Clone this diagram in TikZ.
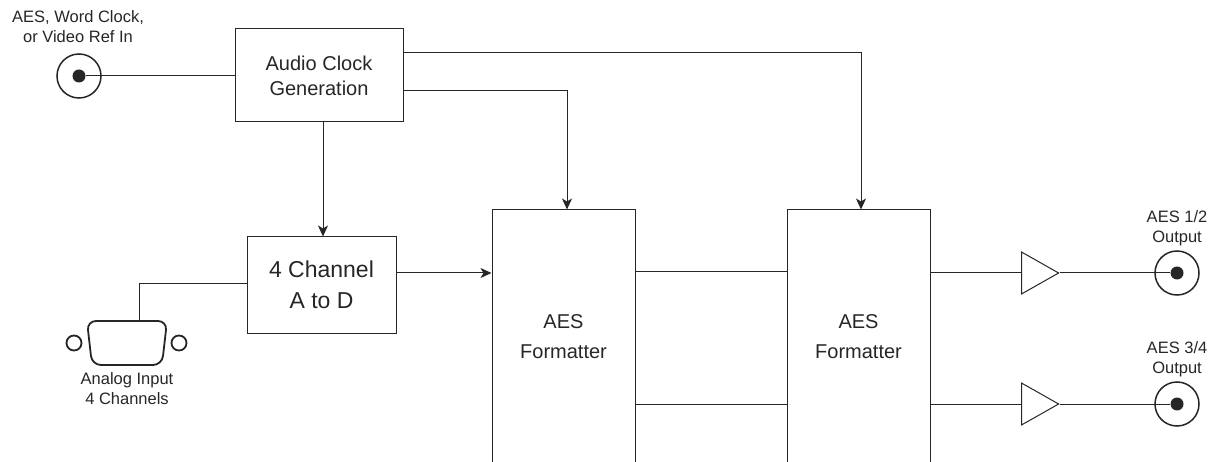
\documentclass[tikz,border=0pt]{standalone}
\usepackage{fontspec}
\setmainfont{Liberation Sans}
\usetikzlibrary{positioning,arrows.meta,shapes.geometric}

\begin{document}
\begin{tikzpicture}[x=1pt,y=-1pt,line width=1pt,color=black!85,
box/.style={draw,inner sep=0pt,align=center,font=\fontsize{20}{25}\selectfont},
note/.style={inner sep=0pt,align=center,font=\fontsize{16.5}{20}\selectfont},
coax/.style={draw,circle,minimum size=44pt,inner sep=0pt,line width=1.5pt},
pin/.style={circle,fill,minimum size=13pt,inner sep=0pt},
hole/.style={draw,circle,minimum size=15pt,inner sep=0pt,line width=1.8pt},
amp/.style={draw,isosceles triangle,isosceles triangle apex angle=59,minimum width=42pt,inner sep=0pt,anchor=lower side},
arrow/.style={-{Stealth[length=11pt,width=10pt,inset=3pt]}}]
\useasboundingbox (0,0) rectangle (1212,462);
% inputs
\node[coax] (refin) at (79,76) {};
\node[pin] (refpin) at (79,76) {};
\node[note] (reflabel) at (78,27) {AES, Word Clock,\\or Video Ref In};
\node[draw,trapezium,trapezium left angle=83.5,trapezium right angle=83.5,shape border rotate=180,inner sep=0pt,rounded corners=9pt,line width=1.8pt] (dsub) at (127,343) {\phantom{\rule{70pt}{44pt}}};
\node[hole] (holea) at (74,343) {};
\node[hole] (holeb) at (179,343) {};
\node[note] (dsublabel) at (127,389) {Analog Input\\4 Channels};
% blocks
\node[box,minimum width=168pt,minimum height=93pt] (clock) at (319,75.5) {Audio Clock\\Generation};
\node[box,minimum width=149pt,minimum height=96pt,font=\fontsize{23}{31}\selectfont] (adc) at (321.5,285) {4 Channel\\A to D};
\node[box,minimum width=143pt,minimum height=254pt] (fmta) at (563.5,337) {AES\\[5pt]Formatter};
\node[box,minimum width=143pt,minimum height=254pt] (fmtb) at (858.5,337) {AES\\[5pt]Formatter};
% outputs
\node[amp] (ampa) at (1021,273) {};
\node[amp] (ampb) at (1021,404) {};
\node[coax] (outa) at (1177,273) {};
\node[pin] (pina) at (1177,273) {};
\node[coax] (outb) at (1177,404) {};
\node[pin] (pinb) at (1177,404) {};
\node[note] (outalabel) at (1177,228) {AES 1/2\\Output};
\node[note] (outblabel) at (1177,359) {AES 3/4\\Output};
% connectors
\coordinate (cornera) at (139,283);
\draw (refpin)--(refpin-|clock.west);
\draw (cornera|-dsub.north)--(cornera)--(cornera-|adc.west);
\draw[arrow] (323,0|-clock.south)--(323,0|-adc.north);
\draw[arrow] (clock.east|-0,91)-|(567,0|-fmta.north);
\draw[arrow] (clock.east|-0,53)-|(861,0|-fmta.north);
\draw[arrow] (adc.east|-0,273)--(fmta.west|-0,273);
\draw (fmta.east|-0,272)--(fmtb.west|-0,272);
\draw (fmta.east|-0,404)--(fmtb.west|-0,404);
\draw (fmtb.east|-ampa.lower side)--(ampa.lower side);
\draw (fmtb.east|-ampb.lower side)--(ampb.lower side);
\draw (ampa.apex)--(pina);
\draw (ampb.apex)--(pinb);
\end{tikzpicture}
\end{document}
